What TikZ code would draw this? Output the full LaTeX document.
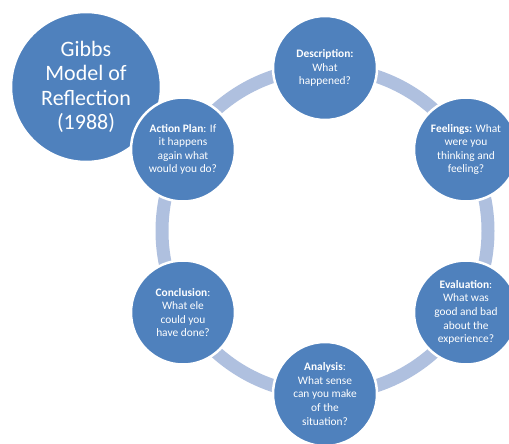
\documentclass[tikz,border=0pt]{standalone}
\usepackage{fontspec}
\setmainfont{Carlito}
\definecolor{nodeblue}{HTML}{4F81BD}
\definecolor{ringblue}{HTML}{AFC0DF}
\begin{document}
\begin{tikzpicture}[x=1pt,y=-1pt,
  stage/.style={circle,fill=nodeblue,draw=white,line width=2.5pt,minimum size=104pt,inner sep=0pt,
    text=white,align=center,font=\fontsize{11.4}{13.6}\selectfont},
  title/.style={circle,fill=nodeblue,draw=white,line width=2.5pt,minimum size=150pt,inner sep=0pt,
    text=white,align=center,font=\fontsize{22}{24.5}\selectfont}]
\useasboundingbox (0,0) rectangle (509,444);
\begin{scope}
\clip (0,0) rectangle (509,444);
\coordinate (ctr) at (325,231);
\draw[ringblue,line width=13pt] (ctr) circle[radius=163pt];
\node[title] (gibbs) at (86,87) {Gibbs\\Model of\\Reflection\\(1988)};
\node[stage] (desc) at (325,68) {\textbf{Description:}\\What\\happened?};
\node[stage] (feel) at (466,149.5) {\textbf{Feelings:} What\\were you\\thinking and\\feeling?};
\node[stage] (eval) at (466,312.5) {\textbf{Evaluation}:\\What was\\good and bad\\about the\\experience?};
\node[stage] (anal) at (325,394) {\textbf{Analysis}:\\What sense\\can you make\\of the\\situation?};
\node[stage] (conc) at (183,312.5) {\textbf{Conclusion}:\\What ele\\could you\\have done?};
\node[stage] (act) at (183,149.5) {\textbf{Action Plan}: If\\it happens\\again what\\would you do?};
\end{scope}
\end{tikzpicture}
\end{document}
